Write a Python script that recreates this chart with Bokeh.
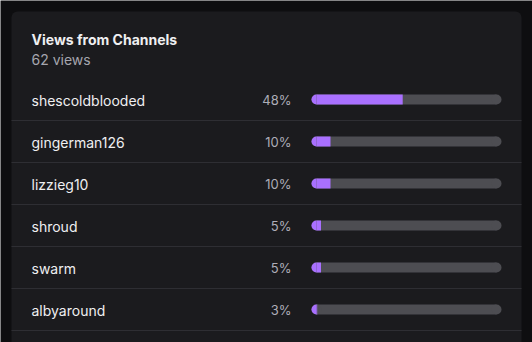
import math
from bokeh.plotting import figure
from bokeh.models import Range1d, BoxAnnotation
from bokeh.core.properties import value
from bokeh.embed import file_html
from bokeh.resources import INLINE

# ---- data ----
title = "Views from Channels"
subtitle = "62 views"
channels = ["shescoldblooded", "gingerman126", "lizzieg10", "shroud", "swarm", "albyaround"]
percents = [48, 10, 10, 5, 5, 3]

# ---- layout (pixel space) ----
W, H = 532, 342
card_l, card_r, card_t = 11, 521, 11
text_x = 31
row0, pitch = 100, 42
bar_x0, bar_x1, bar_h = 311, 501, 10
pct_x = 291
r = bar_h / 2
shift = 5.5

FONT = value("Inter")

p = figure(width=W, height=H, output_backend="svg", toolbar_location=None,
           x_range=Range1d(0, W), y_range=Range1d(H, 0), min_border=0)
p.axis.visible = False
p.grid.visible = False
p.outline_line_color = None
p.background_fill_color = "#0e0e10"
p.border_fill_color = "#0e0e10"

card = BoxAnnotation(left=card_l, right=card_r, top=card_t, bottom=H + 20,
                     fill_color="#1b1b1e", fill_alpha=1, line_color=None,
                     border_radius=6, level="underlay")
p.add_layout(card)

n = len(channels)
centers = [row0 + pitch * i for i in range(n)]
bar_c = [c - 1 for c in centers]
fill_end = [bar_x0 + (bar_x1 - bar_x0) * v / 100 for v in percents]

# dividers
div_y = [c + 20 for c in centers]
p.segment(x0=[card_l] * n, x1=[card_r] * n, y0=div_y, y1=div_y,
          line_color="#2e2e33", line_width=1)

# tracks
p.quad(left=[bar_x0 + r] * n, right=[bar_x1 - r] * n,
       top=[c - r for c in bar_c], bottom=[c + r for c in bar_c],
       fill_color="#4d4d52", line_color=None)
p.circle(x=[bar_x0 + r] * n + [bar_x1 - r] * n, y=bar_c + bar_c, radius=r,
         fill_color="#4d4d52", line_color=None)

# fills
p.wedge(x=[bar_x0 + r] * n, y=bar_c, radius=r,
        start_angle=math.pi / 2, end_angle=3 * math.pi / 2,
        fill_color="#a970ff", line_color=None)
p.quad(left=[bar_x0 + r] * n, right=fill_end,
       top=[c - r for c in bar_c], bottom=[c + r for c in bar_c],
       fill_color="#a970ff", line_color=None)

# texts
p.text(x=[text_x], y=[44.5 - shift - 0.5], text=[title], text_font=FONT, text_font_size="14px",
       text_font_style="bold", text_color="#efeff1", text_baseline="alphabetic")
p.text(x=[text_x], y=[64 - shift], text=[subtitle], text_font=FONT, text_font_size="14px",
       text_color="#a6a6ae", text_baseline="alphabetic")
p.text(x=[text_x] * n, y=[c + 5 - shift for c in centers], text=channels, text_font=FONT,
       text_font_size="14px", text_color="#efeff1", text_baseline="alphabetic")
p.text(x=[pct_x] * n, y=[c + 5 - shift for c in centers], text=[f"{v}%" for v in percents],
       text_font=FONT, text_font_size="13px", text_color="#adadb8",
       text_baseline="alphabetic", text_align="right")

open("out.html", "w").write(file_html(p, INLINE))
